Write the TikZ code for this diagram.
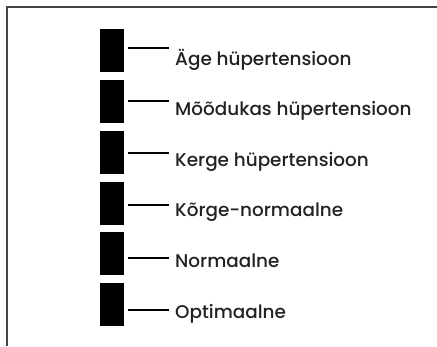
\documentclass[tikz,border=0pt]{standalone}
\usepackage{fontspec}
\setmainfont{Poppins}[UprightFont=* Medium]
\usepackage{xcolor}
\definecolor{frame-grey}{HTML}{444444}
\definecolor{label-text}{HTML}{222222}

\tikzset{
  bar/.style={draw=none, fill=black, minimum width=24pt, minimum height=43pt,
              inner sep=0pt, anchor=north west},
  lead/.style={line width=2pt, black},
  levelname/.style={anchor=base west, inner sep=0pt, font=\fontsize{18.4}{21}\selectfont,
                    text=label-text}
}

\begin{document}
\begin{tikzpicture}[x=1pt, y=1pt]
    % Legend: six black bars with a short lead out to each level name.
    % Coordinates: (x, y), y going down from the top edge
    %   page 437 x 346, frame edge at x=7 and y=-7
    %   bars at x=100, 24 wide, 43 high, tops every ~50.8
    %   text baselines at x=175, every ~50.6 from y=-65
    %   leads from x=128 to x=169, every ~52.3 from y=-48
    \useasboundingbox (0,0) rectangle (437,-346);
    \draw[frame-grey, line width=2pt] (437,-7) -- (7,-7) -- (7,-346);

    \node[bar] (bar1) at (100,-29) {};
    \node[bar] (bar2) at (100,-80) {};
    \node[bar] (bar3) at (100,-131) {};
    \node[bar] (bar4) at (100,-182) {};
    \node[bar] (bar5) at (100,-232) {};
    \node[bar] (bar6) at (100,-283) {};

    \node[levelname] (lvl1) at (175,-65) {Äge hüpertensioon};
    \node[levelname] (lvl2) at (175,-115.6) {Mõõdukas hüpertensioon};
    \node[levelname] (lvl3) at (175,-166.2) {Kerge hüpertensioon};
    \node[levelname] (lvl4) at (175,-216.8) {Kõrge-normaalne};
    \node[levelname] (lvl5) at (175,-267.4) {Normaalne};
    \node[levelname] (lvl6) at (175,-318) {Optimaalne};

    \coordinate (tip1) at (169,-48);
    \coordinate (tip2) at (169,-101);
    \coordinate (tip3) at (169,-153);
    \coordinate (tip4) at (169,-205);
    \coordinate (tip5) at (169,-258);
    \coordinate (tip6) at (169,-310);

    \draw[lead] ([xshift=4pt]bar1.east |- tip1) -- (tip1);
    \draw[lead] ([xshift=4pt]bar2.east |- tip2) -- (tip2);
    \draw[lead] ([xshift=4pt]bar3.east |- tip3) -- (tip3);
    \draw[lead] ([xshift=4pt]bar4.east |- tip4) -- (tip4);
    \draw[lead] ([xshift=4pt]bar5.east |- tip5) -- (tip5);
    \draw[lead] ([xshift=4pt]bar6.east |- tip6) -- (tip6);
\end{tikzpicture}
\end{document}
